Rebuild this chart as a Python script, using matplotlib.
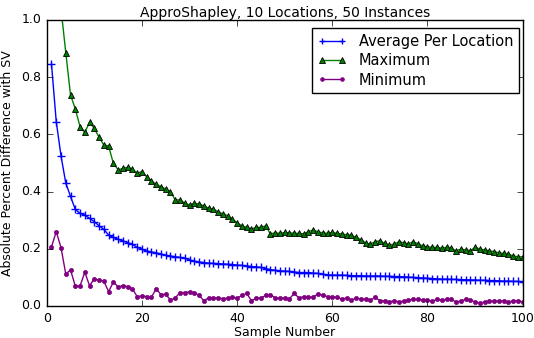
import matplotlib
matplotlib.use('Agg')
import matplotlib.pyplot as plt
import numpy as np

# sample numbers 1..100
samples = list(range(1, 101))

avg_per_location = [
    0.846, 0.645, 0.525, 0.430, 0.383, 0.338, 0.324, 0.318, 0.306, 0.295,
    0.280, 0.268, 0.248, 0.240, 0.233, 0.228, 0.221, 0.216, 0.205, 0.199,
    0.192, 0.189, 0.186, 0.182, 0.177, 0.175, 0.172, 0.170, 0.167, 0.161,
    0.157, 0.154, 0.152, 0.150, 0.149, 0.148, 0.147, 0.146, 0.145, 0.143,
    0.142, 0.140, 0.138, 0.137, 0.135, 0.131, 0.127, 0.125, 0.123, 0.122,
    0.121, 0.119, 0.117, 0.117, 0.117, 0.115, 0.114, 0.111, 0.109, 0.108,
    0.108, 0.108, 0.107, 0.106, 0.106, 0.106, 0.105, 0.105, 0.105, 0.105,
    0.104, 0.104, 0.103, 0.103, 0.102, 0.101, 0.100, 0.099, 0.098, 0.097,
    0.096, 0.095, 0.094, 0.094, 0.093, 0.093, 0.092, 0.092, 0.091, 0.091,
    0.090, 0.090, 0.089, 0.089, 0.088, 0.087, 0.087, 0.086, 0.086, 0.085]

maximum = [
    1.600, 1.250, 1.040, 0.886, 0.738, 0.689, 0.627, 0.607, 0.642, 0.621,
    0.590, 0.563, 0.559, 0.499, 0.476, 0.481, 0.485, 0.478, 0.464, 0.470,
    0.452, 0.438, 0.425, 0.417, 0.409, 0.400, 0.371, 0.371, 0.359, 0.353,
    0.359, 0.357, 0.350, 0.342, 0.338, 0.330, 0.322, 0.316, 0.304, 0.291,
    0.280, 0.275, 0.269, 0.275, 0.275, 0.280, 0.252, 0.256, 0.254, 0.257,
    0.256, 0.254, 0.254, 0.252, 0.260, 0.266, 0.259, 0.256, 0.254, 0.257,
    0.254, 0.252, 0.249, 0.247, 0.240, 0.232, 0.220, 0.216, 0.225, 0.228,
    0.219, 0.213, 0.216, 0.225, 0.221, 0.217, 0.225, 0.217, 0.210, 0.207,
    0.205, 0.205, 0.202, 0.205, 0.202, 0.193, 0.199, 0.196, 0.193, 0.205,
    0.199, 0.196, 0.193, 0.190, 0.186, 0.184, 0.181, 0.175, 0.172, 0.172]

minimum = [
    0.207, 0.260, 0.204, 0.112, 0.126, 0.070, 0.070, 0.118, 0.071, 0.095,
    0.090, 0.087, 0.050, 0.084, 0.067, 0.071, 0.068, 0.060, 0.033, 0.035,
    0.033, 0.031, 0.060, 0.040, 0.041, 0.021, 0.028, 0.047, 0.047, 0.049,
    0.047, 0.037, 0.019, 0.028, 0.028, 0.027, 0.026, 0.027, 0.030, 0.027,
    0.037, 0.044, 0.019, 0.027, 0.028, 0.037, 0.040, 0.028, 0.027, 0.027,
    0.025, 0.044, 0.028, 0.033, 0.030, 0.031, 0.042, 0.037, 0.033, 0.031,
    0.031, 0.024, 0.028, 0.020, 0.028, 0.024, 0.023, 0.020, 0.030, 0.019,
    0.017, 0.014, 0.019, 0.014, 0.017, 0.021, 0.023, 0.023, 0.020, 0.020,
    0.017, 0.023, 0.020, 0.023, 0.023, 0.014, 0.017, 0.023, 0.020, 0.014,
    0.010, 0.014, 0.017, 0.017, 0.017, 0.017, 0.014, 0.017, 0.019, 0.014]

plt.style.use('classic')
plt.rcParams['font.family'] = ['DejaVu Sans']

fig = plt.figure(figsize=(5.34, 3.38), dpi=100)
ax = fig.add_axes([0.0875, 0.0947, 0.8913, 0.8462])

ax.plot(samples, avg_per_location, color='b', marker='+', markersize=5.5,
        markeredgewidth=1.0, linewidth=1.0, label='Average Per Location')
ax.plot(samples, maximum, color='g', marker='^', markersize=5,
        markeredgecolor='k', markeredgewidth=0.6, linewidth=1.0, label='Maximum')
ax.plot(samples, minimum, color='purple', marker='.', markersize=6,
        markeredgecolor='purple', linewidth=1.0, label='Minimum')

ax.set_xlim(0, 100)
ax.set_ylim(0, 1.0)
ax.set_xticks(np.arange(0, 101, 20))
ax.set_yticks(np.arange(0, 1.01, 0.2))
ax.tick_params(labelsize=9)
ax.set_xlabel('Sample Number', fontsize=9, labelpad=1)
ax.set_ylabel('Absolute Percent Difference with SV', fontsize=9)
ax.set_title('ApproShapley, 10 Locations, 50 Instances', fontsize=10, pad=2)

leg = ax.legend(loc='upper right', numpoints=2, fontsize=10.5,
                bbox_to_anchor=(0.992, 0.972), borderaxespad=0,
                labelspacing=0.3, markerscale=0.9)

fig.savefig('out.png', dpi=100)
